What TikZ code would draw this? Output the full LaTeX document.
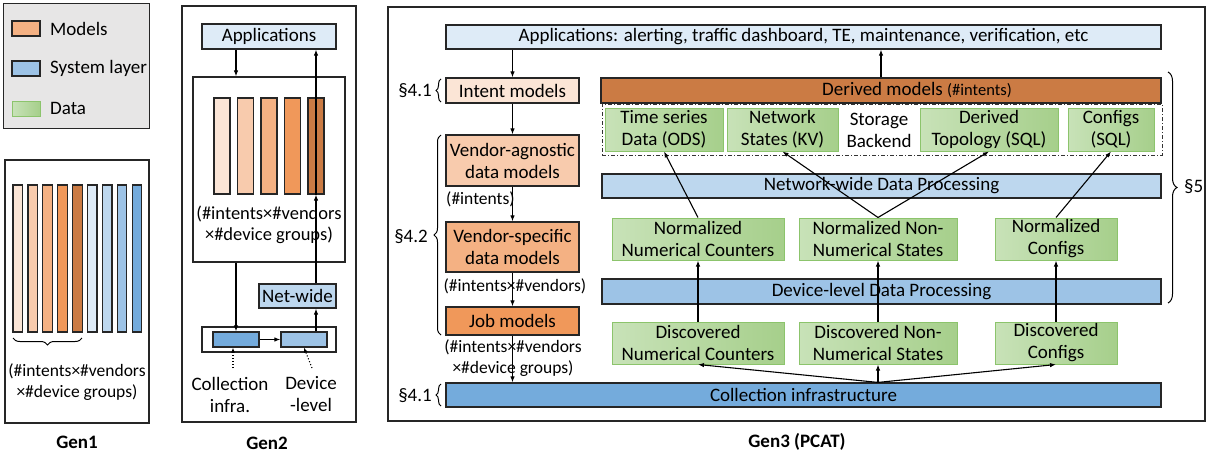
\documentclass[tikz,border=0pt]{standalone}
\usepackage{fontspec}
\setmainfont{Carlito}
\usetikzlibrary{arrows.meta,decorations.pathreplacing,calc}
\definecolor{oA}{HTML}{FBE5D6}
\definecolor{oB}{HTML}{F8CBAD}
\definecolor{oC}{HTML}{F4B183}
\definecolor{oD}{HTML}{F0985A}
\definecolor{oE}{HTML}{CB7B44}
\definecolor{bA}{HTML}{DEEBF7}
\definecolor{bB}{HTML}{BDD7EE}
\definecolor{bC}{HTML}{9DC3E6}
\definecolor{bD}{HTML}{74ABDC}
\definecolor{grnl}{HTML}{C8E2B8}
\definecolor{grnd}{HTML}{A6CF8B}
\definecolor{grnb}{HTML}{8CC46C}
\definecolor{lgray}{HTML}{E7E6E6}
\begin{document}
\begin{tikzpicture}[x=1pt,y=-1pt]
\tikzset{
 bx/.style={draw=black!85, line width=1.2pt, inner sep=0pt, align=center, font=\fontsize{19}{22}\selectfont},
 gbx/.style={draw=grnb, line width=1pt, left color=grnl, right color=grnd, inner sep=0pt, align=center, font=\fontsize{19}{22}\selectfont},
 txt/.style={inner sep=0pt, align=center, font=\fontsize{19}{22}\selectfont},
 ann/.style={inner sep=0pt, align=center, font=\fontsize{17.5}{20.5}\selectfont},
 ttl/.style={inner sep=0pt, font=\fontsize{19}{22}\selectfont\bfseries},
 arr/.style={-{Latex[length=6pt,width=4.5pt]}, line width=1.1pt},
 dotarr/.style={-{Latex[length=5pt,width=4pt]}, line width=1.1pt, dotted},
 brc/.style={decorate, decoration={brace, amplitude=#1}, line width=1pt},
 brc/.default=7pt,
 frame/.style={draw=black!85, line width=1.2pt, inner sep=0pt}
}
\useasboundingbox (0,0) rectangle (1207,455);

% ---------------- Legend ----------------
\node[frame, fill=lgray, minimum width=146pt, minimum height=125pt] (legend) at (76.5,66) {};
\node[bx, fill=oC, minimum width=28pt, minimum height=15pt] (lgm) at (26,28.5) {};
\node[txt, anchor=west] (lgmt) at (50,28.5) {Models};
\node[bx, fill=bC, minimum width=28pt, minimum height=15pt] (lgs) at (26,68.5) {};
\node[txt, anchor=west] (lgst) at (50,68.5) {System layer};
\node[gbx, minimum width=28pt, minimum height=15pt] (lgd) at (26,108.5) {};
\node[txt, anchor=west] (lgdt) at (50,108.5) {Data};

% ---------------- Gen1 ----------------
\node[frame, minimum width=144pt, minimum height=263pt] (g1) at (77,291.5) {};
\foreach \c [count=\i from 0] in {oA,oB,oC,oD,oE,bA,bB,bC,bD}{
  \node[bx, fill=\c, minimum width=9.5pt, minimum height=147pt] (g1b\i) at ({17.75+14.9*\i},258.5) {};
}
\draw[brc=7pt] (82,338) -- (13,338);
\node[ann] (g1txt) at (77,382) {(\#intents×\#vendors\\×\#device groups)};
\node[ttl] (g1ttl) at (77,442) {Gen1};

% ---------------- Gen2 ----------------
\node[frame, minimum width=174pt, minimum height=416pt] (g2) at (269,214) {};
\node[bx, fill=bA, minimum width=134pt, minimum height=25pt] (g2app) at (269,36.5) {Applications};
\node[frame, minimum width=152pt, minimum height=185pt] (g2in) at (269,169.5) {};
\foreach \c [count=\i from 1] in {oA,oB,oC,oD,oE}{
  \node[bx, fill=\c, minimum width=16pt, minimum height=96pt] (g2b\i) at ({198.5+23.5*\i},146) {};
}
\node[ann, font=\fontsize{18.5}{20.5}\selectfont] (g2txt) at (269,225) {(\#intents×\#vendors\\×\#device groups)};
\node[bx, fill=bB, minimum width=77pt, minimum height=24pt] (g2net) at (297.5,296) {Net-wide};
\node[frame, minimum width=134pt, minimum height=25pt] (g2low) at (269,339.5) {};
\node[bx, fill=bD, minimum width=46pt, minimum height=15pt] (g2coll) at (236,339.5) {};
\node[bx, fill=bC, minimum width=46pt, minimum height=15pt] (g2dev) at (304,339.5) {};
\draw[arr] (g2app.south -| g2coll) -- (g2in.north -| g2coll);
\draw[arr] (g2in.south -| g2coll) -- (g2coll.north);
\draw[arr] (g2coll.east) -- (g2dev.west);
\draw[arr] (g2dev.north -| g2b5) -- (g2net.south -| g2b5);
\draw[arr] (g2net.north -| g2b5) -- (g2b5.south);
\draw[arr] (g2b5.south) -- (g2app.south -| g2b5);
\coordinate (g2ca) at (233,368);
\coordinate (g2da) at (312,368);
\draw[dotarr] (g2ca) -- (g2coll.south -| g2ca);
\draw[dotarr] (g2da) -- (g2dev.south);
\node[txt] (g2lc) at (230,394.5) {Collection\\infra.};
\node[txt] (g2ld) at (311,394.5) {Device\\-level};
\node[ttl] (g2ttl) at (267,443) {Gen2};

% ---------------- Gen3 ----------------
\node[frame, minimum width=817pt, minimum height=414pt] (g3) at (796.5,214) {};
\node[bx, fill=bA, minimum width=715pt, minimum height=24pt] (app) at (803.5,37) {Applications: alerting, traffic dashboard, TE, maintenance, verification, etc};
\node[bx, fill=oA, minimum width=133pt, minimum height=25pt] (intent) at (512.5,90.5) {Intent models};
\node[bx, fill=oB, minimum width=133pt, minimum height=51pt] (vagn) at (512.5,160.5) {Vendor-agnostic\\data models};
\node[bx, fill=oC, minimum width=133pt, minimum height=50pt] (vspec) at (512.5,247) {Vendor-specific\\data models};
\node[bx, fill=oD, minimum width=133pt, minimum height=28pt] (job) at (512.5,321) {Job models};
\node[bx, fill=bD, minimum width=715pt, minimum height=24pt] (coll) at (803.5,395) {Collection infrastructure};

\node[ann, anchor=west] (a1) at (446,199) {(\#intents)};
\node[ann] (a2) at (515,286) {(\#intents×\#vendors)};
\node[ann] (a3) at (513,358) {(\#intents×\#vendors\\×\#device groups)};

\draw[arr] (app.south -| intent) -- (intent.north);
\draw[arr] (intent.south) -- (vagn.north);
\draw[arr] (vagn.south) -- (vspec.north);
\draw[arr] (vspec.south) -- (job.north);
\draw[arr] (job.south) -- (coll.north -| job);

% storage
\node[draw=black!80, line width=0.9pt, dash pattern=on 4pt off 2pt on 1pt off 2pt, fill=white, minimum width=560pt, minimum height=51pt, inner sep=0pt] (storage) at (882,129.5) {};
\node[bx, fill=oE, minimum width=560pt, minimum height=25pt] (derived) at (881,90.5) {\hspace*{72pt}Derived models {\fontsize{16.5}{18}\selectfont(\#intents)}};
\node[gbx, minimum width=118pt, minimum height=43pt] (ts) at (664,129.5) {Time series\\Data (ODS)};
\node[gbx, minimum width=111pt, minimum height=43pt] (ns) at (782.5,129.5) {Network\\States (KV)};
\node[txt] (stor) at (879,130.5) {Storage\\Backend};
\node[gbx, minimum width=138pt, minimum height=43pt] (dt) at (989,129.5) {Derived\\Topology (SQL)};
\node[gbx, minimum width=86pt, minimum height=43pt] (cf) at (1111,129.5) {Configs\\(SQL)};

\node[bx, fill=bB, minimum width=559pt, minimum height=24pt] (nwp) at (881.5,186) {Network-wide Data Processing};
\node[gbx, minimum width=172pt, minimum height=42pt] (nnc) at (698,239) {Normalized\\Numerical Counters};
\node[gbx, minimum width=158pt, minimum height=42pt] (nns) at (878,239) {Normalized Non-\\Numerical States};
\node[gbx, minimum width=122pt, minimum height=42pt] (ncf) at (1056,239) {Normalized\\Configs};
\node[bx, fill=bC, minimum width=559pt, minimum height=25pt] (dlp) at (881.5,291.5) {Device-level Data Processing};
\node[gbx, minimum width=172pt, minimum height=42pt] (dnc) at (698,343) {Discovered\\Numerical Counters};
\node[gbx, minimum width=158pt, minimum height=42pt] (dns) at (878,343) {Discovered Non-\\Numerical States};
\node[gbx, minimum width=122pt, minimum height=42pt] (dcf) at (1056,343) {Discovered\\Configs};

\coordinate (fan) at (coll.north -| dns);
\draw[arr] (fan) -- (dnc.south);
\draw[arr] (fan) -- (dns.south);
\draw[arr] (fan) -- (dcf.south);
\draw[arr] (dnc.north) -- (nnc.south);
\draw[arr] (dns.north) -- (nns.south);
\draw[arr] (dcf.north) -- (ncf.south);
\draw[arr] (nnc.north) -- (ts.south);
\draw[arr] (nns.north) -- (ns.south);
\draw[arr] (nns.north) -- (dt.south);
\draw[arr] (ncf.north) -- (cf.south);
\draw[arr] (derived.north) -- (app.south -| derived);

% braces and section labels
\draw[brc=9pt] (1168,72) -- (1168,303);
\node[txt, anchor=west] (s5) at (1184,187) {§5};
\draw[brc=7pt] (441,335) -- (441,135);
\node[txt, anchor=east] (s42) at (428,237) {§4.2};
\draw[brc=5pt] (441,102) -- (441,79);
\node[txt, anchor=east] (s41a) at (432,91) {§4.1};
\draw[brc=5pt] (441,406) -- (441,384);
\node[txt, anchor=east] (s41b) at (432,396) {§4.1};
\node[ttl] (g3ttl) at (797,442) {Gen3 (PCAT)};
\end{tikzpicture}
\end{document}
